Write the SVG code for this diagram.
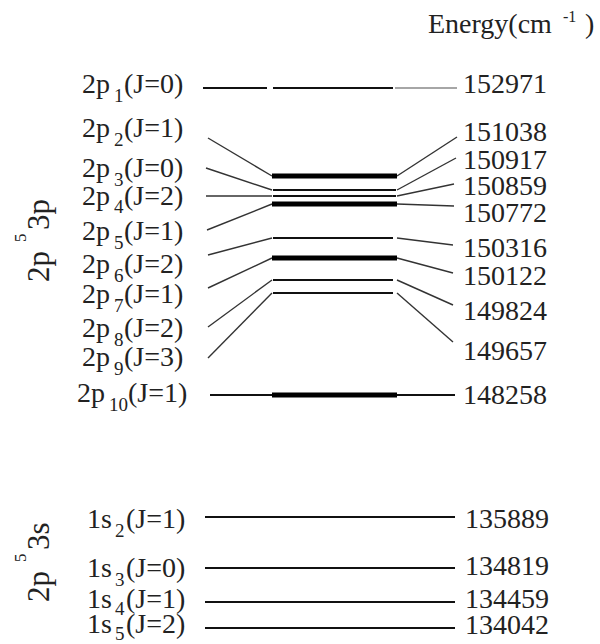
<svg xmlns="http://www.w3.org/2000/svg" width="600" height="644" viewBox="0 0 600 644" font-family="'Liberation Serif', Tinos, 'DejaVu Serif', 'Times New Roman', serif">
<style>
text{font-family:"Liberation Serif",Tinos,"DejaVu Serif","Times New Roman",serif;fill:#222;}
.lab{font-size:28px;}
.sub{font-size:19px;}
.num{font-size:28px;}
.lv{stroke:#111;stroke-width:2;fill:none;}
.lvt{stroke:#000;stroke-width:5;fill:none;}
.cn{stroke:#333;stroke-width:1.4;fill:none;}
.cg{stroke:#888;stroke-width:1.6;fill:none;}
.grp{font-size:31px;}
</style>
<rect width="600" height="644" fill="#fff"/>
<g id="title"><text class="lab" x="428" y="33">Energy(cm<tspan x="563" y="22" font-size="16">-1</tspan><tspan x="585" y="33">)</tspan></text></g>
<g id="group-3p"><text class="grp" transform="translate(49,282) rotate(-90)">2p<tspan x="40" y="-23" font-size="17">5</tspan><tspan x="52" y="0">3p</tspan></text></g>
<g id="group-3s"><text class="grp" transform="translate(49,602) rotate(-90)">2p<tspan x="40" y="-23" font-size="17">5</tspan><tspan x="52" y="0">3s</tspan></text></g>

<g id="connectors">
<line class="lv" x1="203" y1="88" x2="267" y2="88"/>
<line class="cg" x1="395" y1="88" x2="457" y2="88"/>
<line class="cn" x1="208" y1="138" x2="272" y2="176"/>
<line class="cn" x1="206" y1="168" x2="272" y2="190"/>
<line class="cn" x1="206" y1="196" x2="272" y2="196"/>
<line class="cn" x1="207" y1="230" x2="272" y2="204"/>
<line class="cn" x1="208" y1="255" x2="272" y2="238"/>
<line class="cn" x1="208" y1="288" x2="272" y2="258"/>
<line class="cn" x1="208" y1="327" x2="272" y2="280"/>
<line class="cn" x1="208" y1="358" x2="272" y2="293"/>
<line class="lv" x1="210" y1="395" x2="272" y2="395"/>
<line class="cn" x1="397" y1="176" x2="457" y2="137"/>
<line class="cn" x1="397" y1="190" x2="456" y2="158"/>
<line class="cn" x1="397" y1="196" x2="454" y2="184"/>
<line class="cn" x1="397" y1="204" x2="454" y2="206"/>
<line class="cn" x1="397" y1="238" x2="453" y2="245"/>
<line class="cn" x1="397" y1="258" x2="453" y2="273"/>
<line class="cn" x1="397" y1="280" x2="453" y2="305"/>
<line class="cn" x1="397" y1="293" x2="453" y2="342"/>
<line class="lv" x1="397" y1="395" x2="455" y2="395"/>
</g>

<g id="p1"><text class="lab" x="82" y="93">2p<tspan class="sub" x="114" y="102">1</tspan><tspan x="124" y="93">(J=0)</tspan></text><line class="lv" x1="273" y1="88" x2="393" y2="88"/><text class="num" x="463" y="93">152971</text></g>
<g id="p2"><text class="lab" x="82" y="137">2p<tspan class="sub" x="114" y="146">2</tspan><tspan x="124" y="137">(J=1)</tspan></text><line class="lvt" x1="272" y1="176" x2="397" y2="176"/><text class="num" x="463" y="141">151038</text></g>
<g id="p3"><text class="lab" x="82" y="177">2p<tspan class="sub" x="114" y="186">3</tspan><tspan x="124" y="177">(J=0)</tspan></text><line class="lv" x1="273" y1="190" x2="396" y2="190"/><text class="num" x="463" y="169">150917</text></g>
<g id="p4"><text class="lab" x="82" y="205">2p<tspan class="sub" x="114" y="213">4</tspan><tspan x="124" y="205">(J=2)</tspan></text><line class="lv" x1="273" y1="196" x2="396" y2="196"/><text class="num" x="463" y="195">150859</text></g>
<g id="p5"><text class="lab" x="82" y="240">2p<tspan class="sub" x="114" y="249">5</tspan><tspan x="124" y="240">(J=1)</tspan></text><line class="lvt" x1="272" y1="204" x2="397" y2="204"/><text class="num" x="463" y="222">150772</text></g>
<g id="p6"><text class="lab" x="82" y="273">2p<tspan class="sub" x="114" y="282">6</tspan><tspan x="124" y="273">(J=2)</tspan></text><line class="lv" x1="273" y1="238" x2="393" y2="238"/><text class="num" x="463" y="257">150316</text></g>
<g id="p7"><text class="lab" x="82" y="303">2p<tspan class="sub" x="114" y="312">7</tspan><tspan x="124" y="303">(J=1)</tspan></text><line class="lvt" x1="272" y1="258" x2="397" y2="258"/><text class="num" x="463" y="285">150122</text></g>
<g id="p8"><text class="lab" x="82" y="337">2p<tspan class="sub" x="114" y="346">8</tspan><tspan x="124" y="337">(J=2)</tspan></text><line class="lv" x1="273" y1="280" x2="393" y2="280"/><text class="num" x="463" y="320">149824</text></g>
<g id="p9"><text class="lab" x="82" y="366">2p<tspan class="sub" x="114" y="375">9</tspan><tspan x="124" y="366">(J=3)</tspan></text><line class="lv" x1="273" y1="293" x2="393" y2="293"/><text class="num" x="463" y="360">149657</text></g>
<g id="p10"><text class="lab" x="77" y="402">2p<tspan class="sub" x="109" y="411">10</tspan><tspan x="128" y="402">(J=1)</tspan></text><line class="lvt" x1="272" y1="395" x2="397" y2="395"/><text class="num" x="463" y="404">148258</text></g>

<g id="s2"><text class="lab" x="87" y="528">1s<tspan class="sub" x="115" y="537">2</tspan><tspan x="126" y="528">(J=1)</tspan></text><line class="lv" x1="205" y1="517" x2="455" y2="517"/><text class="num" x="465" y="528">135889</text></g>
<g id="s3"><text class="lab" x="87" y="577">1s<tspan class="sub" x="115" y="586">3</tspan><tspan x="126" y="577">(J=0)</tspan></text><line class="lv" x1="205" y1="568" x2="455" y2="568"/><text class="num" x="465" y="575">134819</text></g>
<g id="s4"><text class="lab" x="87" y="608">1s<tspan class="sub" x="115" y="615">4</tspan><tspan x="126" y="608">(J=1)</tspan></text><line class="lv" x1="205" y1="602" x2="455" y2="602"/><text class="num" x="465" y="608">134459</text></g>
<g id="s5"><text class="lab" x="87" y="633">1s<tspan class="sub" x="115" y="640">5</tspan><tspan x="126" y="633">(J=2)</tspan></text><line class="lv" x1="205" y1="628" x2="455" y2="628"/><text class="num" x="465" y="634">134042</text></g>
</svg>
